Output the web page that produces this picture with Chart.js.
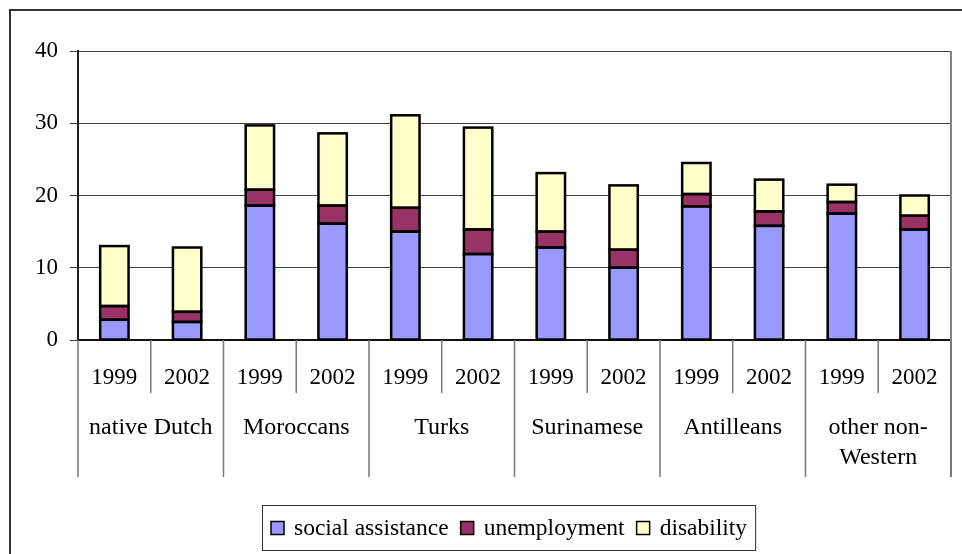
<!DOCTYPE html>
<html>
<head>
<meta charset="utf-8">
<script src="https://cdn.jsdelivr.net/npm/chart.js@4/dist/chart.umd.min.js"></script>
<style>
  html, body { margin: 0; padding: 0; background: #fff; }
  #chart { display: block; }
</style>
</head>
<body>
<canvas id="chart" width="962" height="554"></canvas>
<script>
// Categories
var years  = ['1999', '2002', '1999', '2002', '1999', '2002', '1999', '2002', '1999', '2002', '1999', '2002'];
var groups = ['native Dutch', 'Moroccans', 'Turks', 'Surinamese', 'Antilleans', ['other non-', 'Western']];

// Series values (percent)
var socialAssistance = [2.8, 2.5, 18.6, 16.1, 15.0, 11.9, 12.8, 10.0, 18.5, 15.8, 17.5, 15.3];
var unemployment     = [1.9, 1.4, 2.2, 2.5, 3.3, 3.4, 2.2, 2.5, 1.7, 2.0, 1.6, 1.9];
var disability       = [8.3, 8.9, 8.9, 10.0, 12.8, 14.1, 8.1, 8.9, 4.3, 4.4, 2.4, 2.8];

// Y axis ticks
var yTicks = [0, 10, 20, 30, 40];

var FONT = 'Liberation Serif';

// Frame, bar outlines, category separators, group labels and boxed legend
var decorPlugin = {
    id: 'decor',
    beforeDraw: function (chart) {
        var ctx = chart.ctx;
        ctx.save();
        ctx.strokeStyle = '#333';
        ctx.lineWidth = 2;
        ctx.beginPath();
        ctx.moveTo(10, chart.height);
        ctx.lineTo(10, 10);
        ctx.lineTo(chart.width, 10);
        ctx.stroke();
        ctx.restore();
    },
    afterDatasetsDraw: function (chart) {
        // black outline round every segment, taken from the bar elements
        var ctx = chart.ctx;
        ctx.save();
        ctx.strokeStyle = '#000';
        ctx.lineWidth = 2.5;
        chart.data.datasets.forEach(function (ds, di) {
            chart.getDatasetMeta(di).data.forEach(function (bar) {
                var p = bar.getProps(['x', 'y', 'base', 'width'], true);
                ctx.strokeRect(p.x - p.width / 2, Math.min(p.y, p.base), p.width, Math.abs(p.base - p.y));
            });
        });
        ctx.restore();
    },
    afterDraw: function (chart) {
        var ctx = chart.ctx;
        var area = chart.chartArea;
        var x = chart.scales.x;
        var n = years.length;

        ctx.save();

        // right edge of plot
        ctx.strokeStyle = '#808080';
        ctx.lineWidth = 2;
        ctx.beginPath();
        ctx.moveTo(area.right, area.top);
        ctx.lineTo(area.right, area.bottom + 137);
        ctx.stroke();

        // separators below the axis
        ctx.strokeStyle = '#777';
        ctx.lineWidth = 1.5;
        for (var i = 0; i <= n; i++) {
            var px;
            if (i === 0) px = area.left;
            else if (i === n) px = area.right;
            else px = (x.getPixelForValue(i - 1) + x.getPixelForValue(i)) / 2;
            var len = (i % 2 === 0) ? 137 : 53;
            ctx.beginPath();
            ctx.moveTo(px, area.bottom);
            ctx.lineTo(px, area.bottom + len);
            ctx.stroke();
        }

        // group labels
        ctx.fillStyle = '#000';
        ctx.font = '24px "' + FONT + '"';
        ctx.textAlign = 'center';
        ctx.textBaseline = 'middle';
        groups.forEach(function (g, gi) {
            var cx = (x.getPixelForValue(gi * 2) + x.getPixelForValue(gi * 2 + 1)) / 2;
            var lines = Array.isArray(g) ? g : [g];
            lines.forEach(function (t, li) {
                ctx.fillText(t, cx, area.bottom + 88 + li * 30);
            });
        });

        // legend
        var items = chart.data.datasets;
        var boxLeft = 262, boxTop = 505, boxH = 45;
        var cy = boxTop + boxH / 2 + 1;
        var cur = boxLeft + 9;
        ctx.font = '23.5px "' + FONT + '"';
        ctx.textAlign = 'left';
        items.forEach(function (ds) {
            ctx.fillStyle = ds.backgroundColor;
            ctx.fillRect(cur, cy - 7, 13, 13);
            ctx.strokeStyle = '#000';
            ctx.lineWidth = 1.5;
            ctx.strokeRect(cur, cy - 7, 13, 13);
            cur += 13 + 10;
            ctx.fillStyle = '#000';
            ctx.fillText(ds.label, cur, cy);
            cur += ctx.measureText(ds.label).width + 12;
        });
        ctx.strokeStyle = '#333';
        ctx.lineWidth = 1;
        ctx.strokeRect(boxLeft + 0.5, boxTop + 0.5, cur - boxLeft - 4, boxH);

        ctx.restore();
    }
};

var ctx = document.getElementById('chart').getContext('2d');
new Chart(ctx, {
    type: 'bar',
    data: {
        labels: years,
        datasets: [
            { label: 'social assistance', data: socialAssistance, backgroundColor: '#9999FF' },
            { label: 'unemployment', data: unemployment, backgroundColor: '#993366' },
            { label: 'disability', data: disability, backgroundColor: '#FFFFCC' }
        ].map(function (d) {
            d.borderWidth = 0;
            d.inflateAmount = 0;
            d.categoryPercentage = 1;
            d.barPercentage = 0.39;
            return d;
        })
    },
    options: {
        responsive: false,
        animation: false,
        layout: {
            padding: { top: 51, right: 10, bottom: 77, left: 0 }
        },
        plugins: {
            legend: { display: false },
            tooltip: { enabled: false }
        },
        scales: {
            x: {
                stacked: true,
                grid: { display: false, drawTicks: false },
                border: { display: true, color: '#111', width: 2 },
                ticks: {
                    color: '#000',
                    font: { size: 23, family: FONT },
                    padding: 24,
                    maxRotation: 0,
                    autoSkip: false
                },
                afterFit: function (scale) { scale.height = 137; }
            },
            y: {
                stacked: true,
                min: 0,
                max: 40,
                afterBuildTicks: function (scale) {
                    scale.ticks = yTicks.map(function (v) { return { value: v }; });
                },
                grid: { color: '#404040', lineWidth: 1, tickLength: 8, tickColor: '#404040' },
                border: { display: true, color: '#222', width: 2 },
                ticks: {
                    color: '#000',
                    font: { size: 23, family: FONT },
                    padding: 12
                },
                afterFit: function (scale) { scale.width = 78; }
            }
        }
    },
    plugins: [decorPlugin]
});
</script>
</body>
</html>
